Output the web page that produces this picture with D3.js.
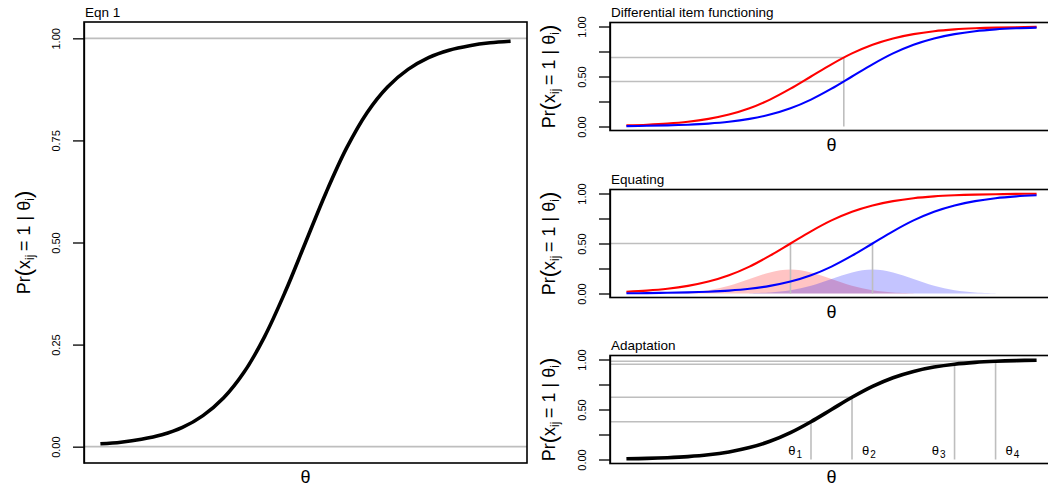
<!DOCTYPE html>
<html><head><meta charset="utf-8">
<script src="https://cdn.jsdelivr.net/npm/d3@7"></script>
<style>
html,body{margin:0;padding:0;background:#fff;}
svg{display:block;font-family:"Liberation Sans",Arial,Helvetica,sans-serif;}
</style>
</head><body>
<svg id="chart" width="1048" height="486"></svg>
<script>
// ---------- data ----------
const thetaGrid = [-5,-4.5,-4,-3.5,-3,-2.5,-2,-1.5,-1,-0.5,0,0.5,1,1.5,2,2.5,3,3.5,4,4.5,5];
const pMain     = [0.007,0.011,0.018,0.029,0.047,0.076,0.119,0.182,0.269,0.378,0.500,0.622,0.731,0.818,0.881,0.924,0.953,0.971,0.982,0.989,0.993];
const pDifRed   = [0.011,0.018,0.029,0.047,0.076,0.119,0.182,0.269,0.378,0.500,0.622,0.731,0.818,0.881,0.924,0.953,0.971,0.982,0.989,0.993,0.996];
const pDifBlue  = [0.004,0.007,0.011,0.018,0.029,0.047,0.076,0.119,0.182,0.269,0.378,0.500,0.622,0.731,0.818,0.881,0.924,0.953,0.971,0.982,0.989];
const pEqRed    = [0.018,0.029,0.047,0.076,0.119,0.182,0.269,0.378,0.500,0.622,0.731,0.818,0.881,0.924,0.953,0.971,0.982,0.989,0.993,0.996,0.998];
const pEqBlue   = [0.002,0.004,0.007,0.011,0.018,0.029,0.047,0.076,0.119,0.182,0.269,0.378,0.500,0.622,0.731,0.818,0.881,0.924,0.953,0.971,0.982];
const pAdapt    = [0.007,0.011,0.018,0.029,0.047,0.076,0.119,0.182,0.269,0.378,0.500,0.622,0.731,0.818,0.881,0.924,0.953,0.971,0.982,0.989,0.993];

const difTheta = 0.3;
const difRedP = 0.69;
const difBlueP = 0.45;

const eqThetas = [-1, 1];
const eqP = 0.5;
const densRedTheta  = [-4,-3.5,-3,-2.5,-2,-1.5,-1,-0.5,0,0.5,1,1.5,2];
const densBlueTheta = [-2,-1.5,-1,-0.5,0,0.5,1,1.5,2,2.5,3,3.5,4];
const densRed  = [0.003,0.011,0.032,0.078,0.145,0.211,0.239,0.211,0.145,0.078,0.032,0.011,0.003];
const densBlue = [0.003,0.011,0.032,0.078,0.145,0.211,0.239,0.211,0.145,0.078,0.032,0.011,0.003];

const adaptThetas = [-0.5, 0.5, 3, 4];
const adaptP = [0.378, 0.622, 0.953, 0.982];
const adaptSubs = ["1","2","3","4"];

const yTicks = [0, 0.25, 0.5, 0.75, 1];
const yTickLabelsMain = ["0.00","0.25","0.50","0.75","1.00"];
const yTickLabelsSmall = ["0.00","","0.50","","1.00"];
const titles = ["Eqn 1","Differential item functioning","Equating","Adaptation"];

// ---------- drawing ----------
const svg = d3.select("#chart");
const GRAY = "#bebebe";

function panel(box, tickLabels, title, ylabX) {
  const x = d3.scaleLinear().domain([-5.4, 5.4]).range([box.x0, box.x1]);
  const y = d3.scaleLinear().domain([-0.04, 1.04]).range([box.y1, box.y0]);
  const g = svg.append("g");
  const content = g.append("g");
  const ax = d3.axisLeft(y).tickValues(yTicks).tickSize(11).tickSizeOuter(0)
    .tickFormat((d,i) => tickLabels[i]);
  const ag = g.append("g").attr("transform", `translate(${box.x0},0)`).call(ax);
  ag.select(".domain").attr("stroke", "#000").attr("stroke-width", 1.3);
  ag.selectAll(".tick line").attr("stroke", "#000").attr("stroke-width", 1.3);
  ag.selectAll(".tick text")
    .attr("x", null).attr("dy", null)
    .attr("transform", "translate(-24.5,0) rotate(-90)")
    .attr("text-anchor", "middle")
    .attr("font-size", 11)
    .attr("font-family", "Liberation Sans, Arial, sans-serif")
    .attr("fill", "#000");
  g.append("rect").attr("x", box.x0).attr("y", box.y0)
    .attr("width", box.x1 - box.x0).attr("height", box.y1 - box.y0)
    .attr("fill", "none").attr("stroke", "#000").attr("stroke-width", 1.6);
  g.append("text").attr("x", box.x0 + 1).attr("y", box.y0 - 5.5)
    .attr("font-size", 13.5).attr("fill", "#000").text(title);
  g.append("text").attr("x", (box.x0 + box.x1) / 2).attr("y", Math.min(box.y1 + 20.5, 482.5))
    .attr("text-anchor", "middle").attr("font-size", 18).attr("fill", "#000").text("θ");
  const yl = g.append("text")
    .attr("transform", `translate(${ylabX},${(box.y0 + box.y1) / 2}) rotate(-90)`)
    .attr("text-anchor", "middle").attr("font-size", 18).attr("fill", "#000");
  yl.append("tspan").text("Pr");
  yl.append("tspan").attr("font-size", 22).attr("dy", 1).text("(");
  yl.append("tspan").attr("dy", -1).text("x");
  yl.append("tspan").attr("font-size", 12).attr("dy", 4).text("ij");
  yl.append("tspan").attr("dy", -4).text("\u2009= 1 | ");
  yl.append("tspan").text("θ");
  yl.append("tspan").attr("font-size", 12).attr("dy", 4).text("i");
  yl.append("tspan").attr("font-size", 22).attr("dy", -3).text(")");
  return {x, y, g: content, box};
}

function curve(P, xs, ys, color, w) {
  const line = d3.line().x(d => P.x(d[0])).y(d => P.y(d[1])).curve(d3.curveCatmullRom.alpha(0.5));
  P.g.append("path").datum(d3.zip(xs, ys)).attr("d", line)
    .attr("fill", "none").attr("stroke", color).attr("stroke-width", w)
    .attr("stroke-linecap", "butt").attr("stroke-linejoin", "round");
}
function seg(P, xa, ya, xb, yb) {
  P.g.append("line").attr("x1", xa).attr("y1", ya).attr("x2", xb).attr("y2", yb)
    .attr("stroke", GRAY).attr("stroke-width", 1.6);
}

const M = panel({x0: 84, x1: 527, y0: 22, y1: 463}, yTickLabelsMain, titles[0], 30);
seg(M, M.box.x0, M.y(0), M.box.x1, M.y(0));
seg(M, M.box.x0, M.y(1), M.box.x1, M.y(1));
curve(M, thetaGrid, pMain, "#000", 3.6);

const D = panel({x0: 610, x1: 1053, y0: 22.5, y1: 130.5}, yTickLabelsSmall, titles[1], 555);
seg(D, D.x(difTheta), D.y(0), D.x(difTheta), D.y(difRedP));
seg(D, D.box.x0, D.y(difRedP), D.x(difTheta), D.y(difRedP));
seg(D, D.box.x0, D.y(difBlueP), D.x(difTheta), D.y(difBlueP));
curve(D, thetaGrid, pDifRed, "#ff0000", 2.1);
curve(D, thetaGrid, pDifBlue, "#0000ff", 2.1);

const E = panel({x0: 610, x1: 1053, y0: 189.5, y1: 297.5}, yTickLabelsSmall, titles[2], 555);
const area = d3.area().x(d => E.x(d[0])).y0(E.y(0)).y1(d => E.y(d[1])).curve(d3.curveCatmullRom.alpha(0.5));
E.g.append("path").datum(d3.zip(densRedTheta, densRed)).attr("d", area).attr("fill", "rgba(255,0,0,0.23)");
E.g.append("path").datum(d3.zip(densBlueTheta, densBlue)).attr("d", area).attr("fill", "rgba(0,0,255,0.23)");
seg(E, E.box.x0, E.y(eqP), E.x(eqThetas[1]), E.y(eqP));
eqThetas.forEach(t => seg(E, E.x(t), E.y(0), E.x(t), E.y(eqP)));
curve(E, thetaGrid, pEqRed, "#ff0000", 2.1);
curve(E, thetaGrid, pEqBlue, "#0000ff", 2.1);

const A = panel({x0: 610, x1: 1053, y0: 355.5, y1: 463.5}, yTickLabelsSmall, titles[3], 555);
adaptThetas.forEach((t, i) => {
  seg(A, A.x(t), A.y(0), A.x(t), A.y(adaptP[i]));
  seg(A, A.box.x0, A.y(adaptP[i]), A.x(t), A.y(adaptP[i]));
});
curve(A, thetaGrid, pAdapt, "#000", 3.6);
adaptThetas.forEach((t, i) => {
  const left = i % 2 === 0;
  const tx = A.g.append("text")
    .attr("x", A.x(t) + (left ? -9 : 10))
    .attr("y", A.y(0) - 5)
    .attr("text-anchor", left ? "end" : "start")
    .attr("font-size", 13).attr("fill", "#000");
  tx.append("tspan").text("θ");
  tx.append("tspan").attr("font-size", 10).attr("dy", 3).attr("dx", 1).text(adaptSubs[i]);
});
</script>
</body></html>
